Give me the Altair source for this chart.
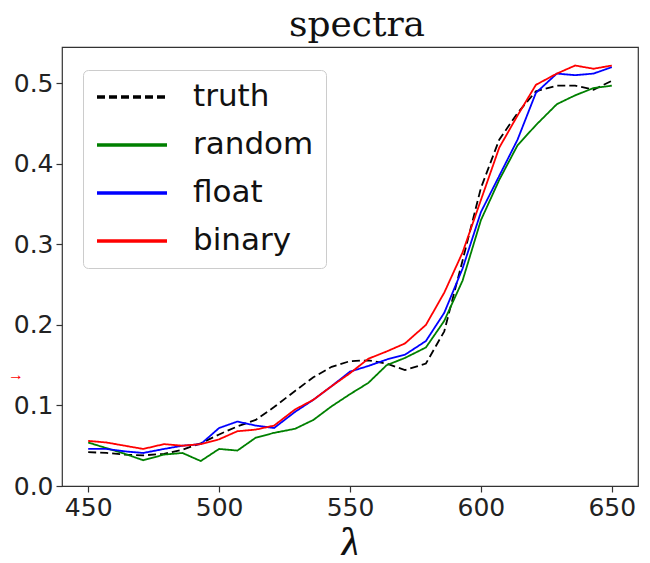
import altair as alt
import pandas as pd

wavelength = [450, 457, 464, 471, 479, 486, 493, 500, 507, 514, 521, 529, 536, 543, 550,
              557, 564, 571, 579, 586, 593, 600, 607, 614, 621, 629, 636, 643, 650]

truth = [0.042, 0.041, 0.039, 0.038, 0.040, 0.045, 0.053, 0.064, 0.074, 0.082, 0.098, 0.118,
         0.135, 0.148, 0.155, 0.156, 0.152, 0.144, 0.152, 0.192, 0.28, 0.37, 0.43, 0.463,
         0.49, 0.497, 0.497, 0.492, 0.503]
random_ = [0.054, 0.047, 0.040, 0.032, 0.039, 0.041, 0.031, 0.046, 0.044, 0.060, 0.066, 0.071,
           0.082, 0.099, 0.114, 0.128, 0.150, 0.159, 0.172, 0.205, 0.255, 0.33, 0.38, 0.423,
           0.448, 0.474, 0.485, 0.494, 0.497]
float_ = [0.046, 0.046, 0.043, 0.041, 0.046, 0.050, 0.052, 0.072, 0.080, 0.075, 0.072, 0.092,
          0.107, 0.124, 0.142, 0.149, 0.157, 0.163, 0.180, 0.215, 0.27, 0.34, 0.385, 0.43,
          0.488, 0.512, 0.51, 0.512, 0.52]
binary = [0.056, 0.054, 0.050, 0.046, 0.052, 0.050, 0.052, 0.058, 0.068, 0.070, 0.075, 0.095,
          0.107, 0.124, 0.140, 0.158, 0.167, 0.177, 0.200, 0.240, 0.29, 0.355, 0.42, 0.46,
          0.498, 0.512, 0.522, 0.518, 0.522]

series_names = ["truth", "random", "float", "binary"]
series_colors = ["#000000", "#008000", "#0000ff", "#ff0000"]
series_dash = [[8, 4], [1, 0], [1, 0], [1, 0]]

x_ticks = [450, 500, 550, 600, 650]
y_ticks = [0.0, 0.1, 0.2, 0.3, 0.4, 0.5]
title_text = ["spectra"]

rows = []
for name, vals in zip(series_names, [truth, random_, float_, binary]):
    for w, v in zip(wavelength, vals):
        rows.append({"lam": w, "value": v, "series": name})
df = pd.DataFrame(rows)

legend = alt.Legend(
    title=None, orient="none", legendX=21, legendY=23,
    symbolType="stroke", symbolSize=4900, symbolStrokeWidth=3.5,
    labelFontSize=31, labelFont="DejaVu Sans", labelColor="#111",
    clipHeight=30, rowPadding=17, padding=12,
    strokeColor="#cccccc", fillColor="white", cornerRadius=5,
    labelOffset=24,
)

color = alt.Color("series:N", scale=alt.Scale(domain=series_names, range=series_colors), legend=legend)
dash = alt.StrokeDash("series:N", scale=alt.Scale(domain=series_names, range=series_dash), legend=legend)

x = alt.X("lam:Q", scale=alt.Scale(domain=[440, 660], nice=False, zero=False),
          axis=alt.Axis(values=x_ticks, title="λ", format="d"))
y = alt.Y("value:Q", scale=alt.Scale(domain=[0, 0.545], nice=False),
          axis=alt.Axis(values=y_ticks, title=None, format=".1f"))

layers = []
for name in series_names:
    layers.append(
        alt.Chart(df).transform_filter(alt.datum.series == name)
        .mark_line(strokeWidth=1.8)
        .encode(x=x, y=y, color=color, strokeDash=dash)
    )

arrow = alt.Chart(pd.DataFrame({"value": [0.138], "t": ["→"]})).mark_text(
    color="#ff0000", fontSize=16, align="left", baseline="middle"
).encode(x=alt.value(-54), y=alt.Y("value:Q"), text="t:N")
layers.append(arrow)

title = alt.Chart(pd.DataFrame({"t": title_text})).mark_text(
    font="DejaVu Serif", fontSize=36, color="#111", align="center", baseline="alphabetic"
).encode(x=alt.value(295), y=alt.value(-11), text="t:N")
layers.append(title)

chart = alt.layer(*layers).properties(
    width=576, height=439,
    autosize=alt.AutoSizeParams(type="none"),
    padding={"left": 54, "top": 39, "right": 4, "bottom": 69},
).configure_view(
    stroke="#333333", strokeWidth=1.2
).configure_axis(
    domain=False, grid=False, tickColor="#333", tickSize=6, tickWidth=1.2,
    labelFont="DejaVu Sans", labelFontSize=25, labelColor="#222", labelPadding=3,
    titleFont="DejaVu Serif", titleFontSize=42, titleFontWeight="normal",
    titleFontStyle="italic", titleColor="#111", titlePadding=6,
)

chart.save("out.html", embed_options={"renderer": "svg", "actions": False})
